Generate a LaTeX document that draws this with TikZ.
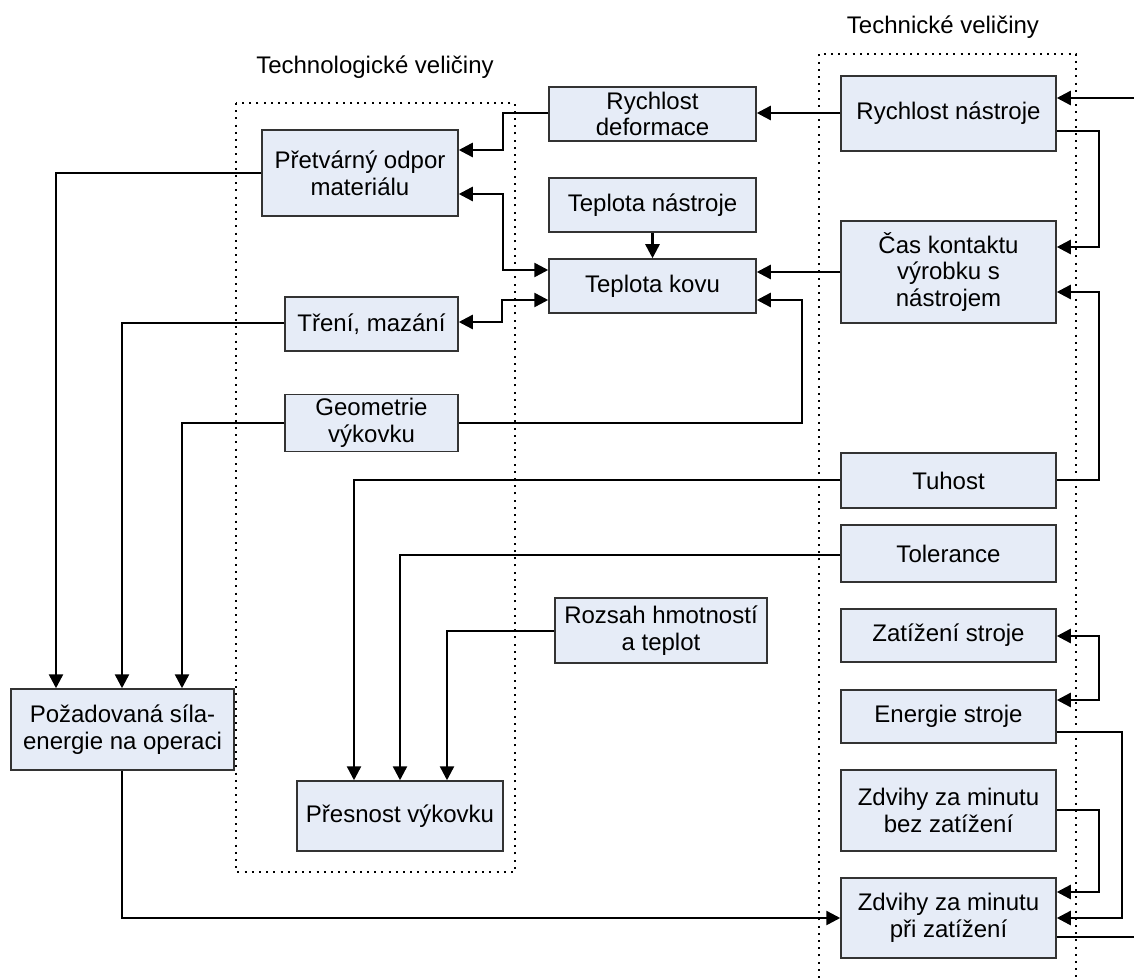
\documentclass[tikz,border=0pt]{standalone}
\usepackage{fontspec}
\setmainfont{Liberation Sans}
\usetikzlibrary{arrows.meta}
\definecolor{boxfill}{RGB}{230,236,247}
\begin{document}
\begin{tikzpicture}[x=0.5pt,y=-0.5pt,
  box/.style={draw=black!80, line width=0.75pt, fill=boxfill, inner sep=0pt,
    align=center, font=\fontsize{12}{13.4}\selectfont},
  sz/.style 2 args={minimum width=#1*0.5pt, minimum height=#2*0.5pt},
  lbl/.style={font=\fontsize{12}{13.4}\selectfont, inner sep=0pt},
  conn/.style={draw, line width=1.25pt},
  arr/.style={conn, -{Triangle[length=7pt,width=7pt]}},
  arrb/.style={conn, {Triangle[length=7pt,width=7pt]}-{Triangle[length=7pt,width=7pt]}},
  dotbox/.style={draw, line width=1pt, dash pattern=on 1pt off 2.6pt}]
\useasboundingbox (0,0) rectangle (1134,978);

% dotted groups
\draw[dotbox] (236,103) rectangle (515,872);
\draw[dotbox] (819,978) -- (819,54) -- (1076,54) -- (1076,978);
\node[lbl] (ltech) at (375,67) {Technologické veličiny};
\node[lbl] (ltn) at (943,27) {Technické veličiny};

% technological boxes
\node[box, sz={207}{54}] (rd) at (652.5,114) {Rychlost\\deformace};
\node[box, sz={196}{86}] (po) at (360,173) {Přetvárný odpor\\materiálu};
\node[box, sz={207}{54}] (tn) at (652.5,205) {Teplota nástroje};
\node[box, sz={207}{54}] (tk) at (652.5,286) {Teplota kovu};
\node[box, sz={173}{54}] (tm) at (371.5,324) {Tření, mazání};
\node[box, sz={173}{57}] (gv) at (371.5,423) {Geometrie\\výkovku};
\node[box, sz={223}{81}] (pse) at (122.5,729.5) {Požadovaná síla-\\energie na operaci};
\node[box, sz={206}{70}] (pv) at (400,816) {Přesnost výkovku};
\node[box, sz={212}{65}] (rht) at (661,630.5) {Rozsah hmotností\\a teplot};

% technical boxes
\node[box, sz={215}{75}] (rn) at (948.5,113.5) {Rychlost nástroje};
\node[box, sz={215}{102}] (ck) at (948.5,272) {Čas kontaktu\\výrobku s\\nástrojem};
\node[box, sz={215}{55}] (tu) at (948.5,480.5) {Tuhost};
\node[box, sz={215}{57}] (tol) at (948.5,553.5) {Tolerance};
\node[box, sz={215}{53}] (zs) at (948.5,635.5) {Zatížení stroje};
\node[box, sz={215}{53}] (es) at (948.5,716.5) {Energie stroje};
\node[box, sz={215}{81}] (zb) at (948.5,810.5) {Zdvihy za minutu\\bez zatížení};
\node[box, sz={215}{80}] (zp) at (948.5,918) {Zdvihy za minutu\\při zatížení};

% free ends
\coordinate (inR) at (1134,98);
\coordinate (outR) at (1134,937);

% connectors
\draw[arr] (rn.west |- 0,113) -- (rd.east |- 0,113);
\draw[arr] (rd.west |- 0,113) -- (503,113) -- (503,150) -- (po.east |- 0,150);
\draw[arrb] (po.east |- 0,194) -- (503,194) -- (503,270) -- (tk.west |- 0,270);
\draw[arrb] (tm.east |- 0,322) -- (502,322) -- (502,300) -- (tk.west |- 0,300);
\draw[arr] (tn.south) -- (tk.north);
\draw[arr] (ck.west |- 0,272) -- (tk.east |- 0,272);
\draw[arr] (gv.east |- 0,423) -- (802,423) -- (802,300) -- (tk.east |- 0,300);
\draw[arr] (po.west |- 0,173) -- (56,173) -- (pse.north -| 56,0);
\draw[arr] (tm.west |- 0,323) -- (122,323) -- (pse.north -| 122,0);
\draw[arr] (gv.west |- 0,423) -- (182,423) -- (pse.north -| 182,0);
\draw[arr] (tu.west |- 0,480) -- (354,480) -- (pv.north -| 354,0);
\draw[arr] (tol.west |- 0,555) -- (400,555) -- (pv.north -| 400,0);
\draw[arr] (rht.west |- 0,631) -- (447,631) -- (pv.north -| 447,0);
\draw[arr] (pse.south -| 122,0) -- (122,918) -- (zp.west |- 0,918);
\draw[arr] (inR) -- (rn.east |- inR);
\draw[arr] (rn.east |- 0,131) -- (1099,131) -- (1099,247) -- (ck.east |- 0,247);
\draw[arr] (tu.east |- 0,480) -- (1099,480) -- (1099,292) -- (ck.east |- 0,292);
\draw[arrb] (zs.east |- 0,636) -- (1099,636) -- (1099,700) -- (es.east |- 0,700);
\draw[arr] (es.east |- 0,732) -- (1122,732) -- (1122,918) -- (zp.east |- 0,918);
\draw[arr] (zb.east |- 0,810) -- (1099,810) -- (1099,892) -- (zp.east |- 0,892);
\draw[conn] (zp.east |- outR) -- (outR);
\end{tikzpicture}
\end{document}
